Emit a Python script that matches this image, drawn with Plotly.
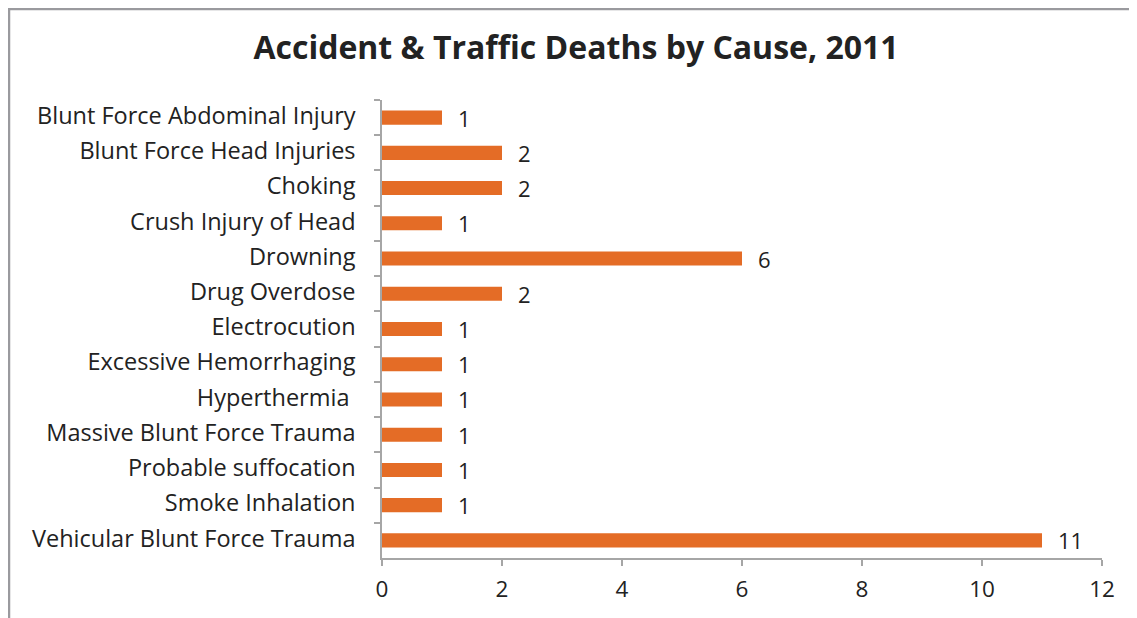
import plotly.graph_objects as go

causes = [
    "Blunt Force Abdominal Injury",
    "Blunt Force Head Injuries",
    "Choking",
    "Crush Injury of Head",
    "Drowning",
    "Drug Overdose",
    "Electrocution",
    "Excessive Hemorrhaging",
    "Hyperthermia ",
    "Massive Blunt Force Trauma",
    "Probable suffocation",
    "Smoke Inhalation",
    "Vehicular Blunt Force Trauma",
]
deaths = [1, 2, 2, 1, 6, 2, 1, 1, 1, 1, 1, 1, 11]
x_ticks = [0, 2, 4, 6, 8, 10, 12]

FONT = "Open Sans"
OFF = 8  # page body margin offset
W, H = 1137, 618
ML, MR, MT, MB = 382 - OFF, 35 + OFF, 100 - OFF, 60 + OFF

fig = go.Figure()
fig.add_trace(go.Bar(
    y=causes, x=deaths, orientation="h",
    marker=dict(color="#E46C26", line=dict(width=0)),
    width=0.4,
))

for c, v in zip(causes, deaths):
    fig.add_annotation(x=v, y=c, text=str(v), showarrow=False,
                       xanchor="left", xshift=14, yshift=0,
                       font=dict(family=FONT, size=22, color="#222222"))

pw = W - ML - MR
ph = H - MT - MB
def px(x):
    return (x - OFF - ML) / pw
def py(y):
    return (H - MB - (y - OFF)) / ph

fig.add_shape(type="path", xref="paper", yref="paper",
              path=f"M {px(9)} {py(700)} L {px(9)} {py(9)} L {px(1200)} {py(9)}",
              line=dict(color="#9A9A9E", width=2.5))

fig.update_layout(
    width=W, height=H,
    margin=dict(l=ML, r=MR, t=MT, b=MB),
    paper_bgcolor="white", plot_bgcolor="white",
    showlegend=False,
    title=dict(text="<b>Accident & Traffic Deaths by Cause, 2011</b>",
               x=(576 - OFF) / W, xanchor="center", y=1 - (48 - OFF) / H, yanchor="middle",
               font=dict(family=FONT, size=32, color="#222222")),
    xaxis=dict(range=[0, 12], tickvals=x_ticks, showgrid=False, zeroline=False,
               showline=True, linecolor="#A6A6A6", linewidth=1.5,
               ticks="outside", ticklen=6, tickcolor="#A6A6A6", tickwidth=1.5,
               ticklabelstandoff=4,
               tickfont=dict(family=FONT, size=22.5, color="#222222")),
    yaxis=dict(autorange="reversed", showgrid=False, zeroline=False,
               showline=True, linecolor="#A6A6A6", linewidth=1.5,
               ticks="outside", ticklen=6, tickcolor="#A6A6A6", tickwidth=1.5,
               tickson="boundaries", ticklabelstandoff=20, ticklabelshift=2,
               tickfont=dict(family=FONT, size=23.5, color="#222222")),
)

fig.write_html("out.html")
